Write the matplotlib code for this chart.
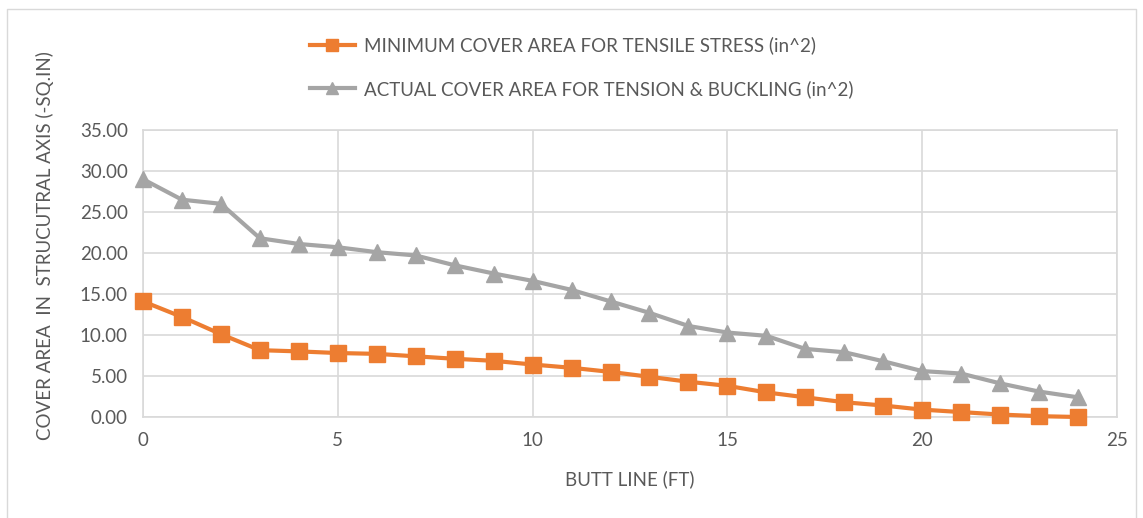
import matplotlib
matplotlib.use("Agg")
import matplotlib.pyplot as plt
from matplotlib.lines import Line2D

# Butt line positions (ft)
butt_line = list(range(0, 25))

# Minimum cover area for tensile stress (in^2)
min_cover = [14.1, 12.2, 10.1, 8.15, 8.0, 7.8, 7.7, 7.4, 7.1, 6.85, 6.4, 6.0,
             5.5, 4.9, 4.3, 3.8, 3.0, 2.4, 1.8, 1.4, 0.9, 0.6, 0.3, 0.1, 0.0]

# Actual cover area for tension & buckling (in^2)
actual_cover = [29.0, 26.5, 26.0, 21.8, 21.1, 20.7, 20.1, 19.7, 18.5, 17.5, 16.6, 15.5,
                14.1, 12.7, 11.1, 10.3, 9.9, 8.3, 7.9, 6.8, 5.6, 5.3, 4.1, 3.1, 2.4]

y_ticks = [0, 5, 10, 15, 20, 25, 30, 35]
x_ticks = [0, 5, 10, 15, 20, 25]

ORANGE = '#ED7D31'
GRAY = '#A5A5A5'
TEXT = '#595959'
GRID = '#D9D9D9'
FS = 13.5

plt.rcParams['font.family'] = ['Lato', 'DejaVu Sans']

fig = plt.figure(figsize=(11.43, 5.18), dpi=100)
ax = fig.add_axes([143 / 1143, 101 / 518, 974 / 1143, 287 / 518])

ax.plot(butt_line, min_cover, color=ORANGE, linewidth=3, marker='s', markersize=11,
        label='MINIMUM COVER AREA FOR TENSILE STRESS (in^2)', zorder=3, clip_on=False)
ax.plot(butt_line, actual_cover, color=GRAY, linewidth=3, marker='^', markersize=11,
        label='ACTUAL COVER AREA FOR TENSION & BUCKLING (in^2)', zorder=3, clip_on=False)

ax.set_xlim(0, 25)
ax.set_ylim(0, 35)
ax.set_xticks(x_ticks)
ax.set_yticks(y_ticks)
ax.set_yticklabels([f'{v:.2f}' for v in y_ticks])
ax.tick_params(length=0, labelsize=FS, colors=TEXT, pad=11)
ax.grid(True, color=GRID, linewidth=1.2)
ax.set_axisbelow(True)
for s in ax.spines.values():
    s.set_color(GRID)
    s.set_linewidth(1.2)

ax.set_xlabel('BUTT LINE (FT)', fontsize=FS, color=TEXT, labelpad=15)
fig.text(45 / 1143, 1 - 246 / 518, 'COVER AREA  IN  STRUCUTRAL AXIS (-SQ.IN)',
         rotation=90, ha='center', va='center', fontsize=FS, color=TEXT)

handles = [
    Line2D([], [], color=ORANGE, linewidth=3, marker='s', markersize=9),
    Line2D([], [], color=GRAY, linewidth=3, marker='^', markersize=9),
]
labels = ['MINIMUM COVER AREA FOR TENSILE STRESS (in^2)',
          'ACTUAL COVER AREA FOR TENSION & BUCKLING (in^2)']
leg = fig.legend(handles, labels, loc='upper center', bbox_to_anchor=(0.509, 0.962),
                 frameon=False, fontsize=FS, labelcolor=TEXT, handlelength=2.4,
                 labelspacing=1.35, handletextpad=0.5)

# light chart border
fig.add_artist(Line2D([7 / 1143, 7 / 1143, 1136 / 1143, 1136 / 1143],
                      [0, 1 - 9 / 518, 1 - 9 / 518, 0],
                      transform=fig.transFigure, color=GRID, linewidth=1))

fig.savefig('out.png', dpi=100, facecolor='white')
